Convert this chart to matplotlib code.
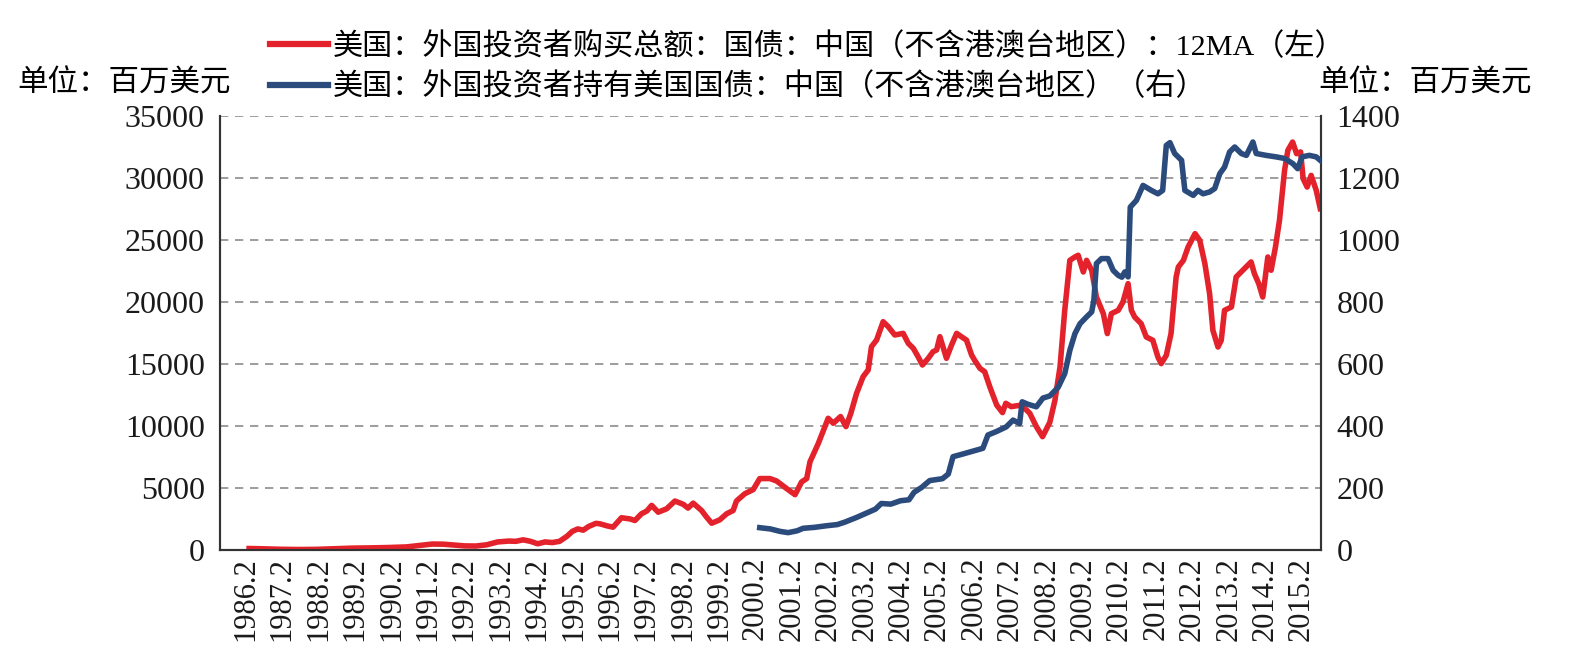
import matplotlib
matplotlib.use("Agg")
import matplotlib.pyplot as plt
from matplotlib.lines import Line2D

plt.rcParams['font.family'] = ['Liberation Serif', 'Noto Sans CJK SC', 'DejaVu Sans']

RED = '#E3222B'
BLUE = '#2B4B7C'

# 美国：外国投资者购买总额：国债：中国，12MA（百万美元，左轴）
red_dates = [1986.17, 1986.5, 1987.0, 1987.5, 1988.0, 1988.5, 1989.0, 1989.5, 1990.0, 1990.5,
             1990.9, 1991.2, 1991.5, 1991.8, 1992.1, 1992.4, 1992.7, 1993.0, 1993.3, 1993.5,
             1993.7, 1993.9, 1994.1, 1994.3, 1994.5, 1994.7, 1994.9, 1995.05, 1995.2, 1995.35,
             1995.5, 1995.7, 1995.81, 1996.0, 1996.17, 1996.4, 1996.63, 1996.77, 1996.95, 1997.1,
             1997.23, 1997.41, 1997.64, 1997.87, 1998.1, 1998.23, 1998.37, 1998.6, 1998.74, 1998.88,
             1999.1, 1999.29, 1999.47, 1999.56, 1999.79, 2000.02, 2000.2, 2000.48, 2000.66, 2000.94,
             2001.17, 2001.35, 2001.49, 2001.58, 2001.81, 2002.08, 2002.22, 2002.42, 2002.57, 2002.7,
             2002.86, 2003.04, 2003.18, 2003.27, 2003.41, 2003.59, 2003.73, 2003.91, 2004.14, 2004.28,
             2004.42, 2004.55, 2004.67, 2004.83, 2004.96, 2005.06, 2005.15, 2005.33, 2005.47, 2005.61,
             2005.74, 2005.88, 2006.02, 2006.1, 2006.25, 2006.38, 2006.52, 2006.71, 2006.87, 2006.96,
             2007.11, 2007.39, 2007.62, 2007.8, 2007.97, 2008.17, 2008.31, 2008.45, 2008.58, 2008.72,
             2008.86, 2008.95, 2009.09, 2009.18, 2009.32, 2009.45, 2009.64, 2009.75, 2009.86, 2010.05,
             2010.18, 2010.32, 2010.41, 2010.5, 2010.68, 2010.82, 2011.0, 2011.14, 2011.23, 2011.37,
             2011.5, 2011.64, 2011.7, 2011.84, 2011.97, 2012.16, 2012.29, 2012.43, 2012.56, 2012.65,
             2012.79, 2012.88, 2012.97, 2013.16, 2013.29, 2013.43, 2013.61, 2013.7, 2013.79, 2013.91,
             2014.02, 2014.16, 2014.25, 2014.37, 2014.48, 2014.62, 2014.71, 2014.84, 2014.95, 2015.06,
             2015.13, 2015.24, 2015.35, 2015.49, 2015.6]
red_values = [120, 100, 60, 40, 50, 100, 150, 170, 200, 250,
              380, 480, 470, 400, 330, 320, 420, 650, 720, 700,
              820, 700, 500, 650, 600, 700, 1100, 1500, 1700, 1600,
              1900, 2150, 2110, 1950, 1840, 2600, 2510, 2380, 2920, 3150,
              3600, 3050, 3320, 3950, 3680, 3380, 3780, 3190, 2650, 2160,
              2430, 2920, 3190, 3950, 4540, 4870, 5760, 5760, 5570, 4950,
              4460, 5490, 5760, 7110, 8600, 10620, 10220, 10760, 9950, 11000,
              12630, 13980, 14520, 16400, 16930, 18410, 18010, 17340, 17470, 16670,
              16260, 15590, 14920, 15460, 15990, 16130, 17200, 15460, 16530, 17470,
              17200, 16930, 15730, 15320, 14650, 14380, 13170, 11690, 11080, 11830,
              11560, 11690, 11020, 9950, 9140, 10300, 12070, 14760, 19330, 23360,
              23630, 23770, 22420, 23360, 22560, 20400, 19060, 17450, 19060, 19330,
              20000, 21480, 19330, 18790, 18250, 17180, 16910, 15560, 15030, 15700,
              17450, 22000, 22820, 23360, 24440, 25510, 24970, 23090, 20670, 17720,
              16370, 16910, 19330, 19600, 22020, 22430, 22960, 23230, 22290, 21480,
              20400, 23630, 22560, 24440, 26590, 30620, 32230, 32900, 31960, 32100,
              29940, 29270, 30210, 29000, 27530]

# 美国：外国投资者持有美国国债：中国（右轴）
blue_dates = [2000.2, 2000.49, 2000.76, 2000.98, 2001.23, 2001.39, 2001.7, 2002.02, 2002.33, 2002.54,
              2002.86, 2003.17, 2003.38, 2003.54, 2003.8, 2004.07, 2004.3, 2004.44, 2004.65, 2004.87,
              2005.22, 2005.38, 2005.51, 2005.79, 2006.15, 2006.33, 2006.47, 2006.7, 2006.97, 2007.16,
              2007.34, 2007.41, 2007.57, 2007.8, 2007.98, 2008.17, 2008.4, 2008.58, 2008.72, 2008.86,
              2009.0, 2009.18, 2009.32, 2009.38, 2009.45, 2009.59, 2009.77, 2009.91, 2010.05, 2010.15,
              2010.23, 2010.32, 2010.38, 2010.55, 2010.73, 2010.96, 2011.14, 2011.27, 2011.37, 2011.47,
              2011.6, 2011.79, 2011.88, 2012.11, 2012.24, 2012.38, 2012.56, 2012.7, 2012.84, 2012.97,
              2013.11, 2013.25, 2013.43, 2013.57, 2013.75, 2013.84, 2014.11, 2014.39, 2014.62, 2014.85,
              2014.98, 2015.1, 2015.3, 2015.49, 2015.6]
blue_values = [72, 68, 60, 56, 62, 70, 73, 78, 82, 90,
               105, 121, 132, 150, 148, 159, 162, 186, 202, 224,
               230, 245, 301, 310, 322, 328, 371, 382, 397, 419,
               408, 478, 470, 462, 490, 497, 525, 569, 644, 698,
               730, 752, 768, 805, 924, 940, 940, 902, 886, 880,
               897, 881, 1106, 1128, 1176, 1160, 1149, 1160, 1305, 1314,
               1279, 1257, 1160, 1144, 1160, 1149, 1155, 1166, 1214, 1235,
               1284, 1300, 1279, 1273, 1316, 1279, 1273, 1268, 1263, 1246,
               1230, 1268, 1273, 1268, 1257]

tick_years = list(range(1986, 2016))
tick_labels = [f"{y}.2" for y in tick_years]

red_label = "美国：外国投资者购买总额：国债：中国（不含港澳台地区）：12MA（左）"
blue_label = "美国：外国投资者持有美国国债：中国（不含港澳台地区）（右）"
unit_label = "单位：百万美元"

fig = plt.figure(figsize=(15.86, 6.59), dpi=100)
ax = fig.add_axes([0.1387, 0.1654, 0.6942, 0.6586])
ax2 = ax.twinx()

ax.plot(red_dates, red_values, color=RED, lw=4.0, solid_joinstyle='round', zorder=3)
ax2.plot(blue_dates, blue_values, color=BLUE, lw=4.0, solid_joinstyle='round', zorder=3)

ax.set_xlim(1985.37, 2015.62)
ax.set_ylim(0, 35000)
ax2.set_ylim(0, 1400)
ax.set_yticks(range(0, 35001, 5000))
ax2.set_yticks(range(0, 1401, 200))
ax.set_xticks([y + 1 / 12 for y in tick_years])
ax.set_xticklabels(tick_labels, rotation=90)

ax.yaxis.grid(True, linestyle=(0, (5, 4)), color='#8c8c8c', lw=1.2)
ax.set_axisbelow(True)

for a in (ax, ax2):
    a.tick_params(length=0, labelsize=23, colors='#1a1a1a')
    a.spines['top'].set_visible(False)
    for s in ('left', 'right', 'bottom'):
        a.spines[s].set_color('#333333')
        a.spines[s].set_linewidth(1.5)
ax.tick_params(axis='y', pad=11)
ax2.tick_params(axis='y', pad=11)
ax.tick_params(axis='x', pad=5, labelsize=22)

handles = [Line2D([], [], color=RED, lw=4.5), Line2D([], [], color=BLUE, lw=4.5)]
fig.legend(handles, [red_label, blue_label], loc='upper left',
           bbox_to_anchor=(0.1567, 0.983), frameon=False, fontsize=21.7,
           handlelength=1.95, handletextpad=0.15, labelspacing=0.38, borderpad=0.2)

fig.text(0.011, 0.872, unit_label, fontsize=22, va='center', ha='left')
fig.text(0.831, 0.872, unit_label, fontsize=22, va='center', ha='left')

fig.savefig('out.png', dpi=100, facecolor='white')
